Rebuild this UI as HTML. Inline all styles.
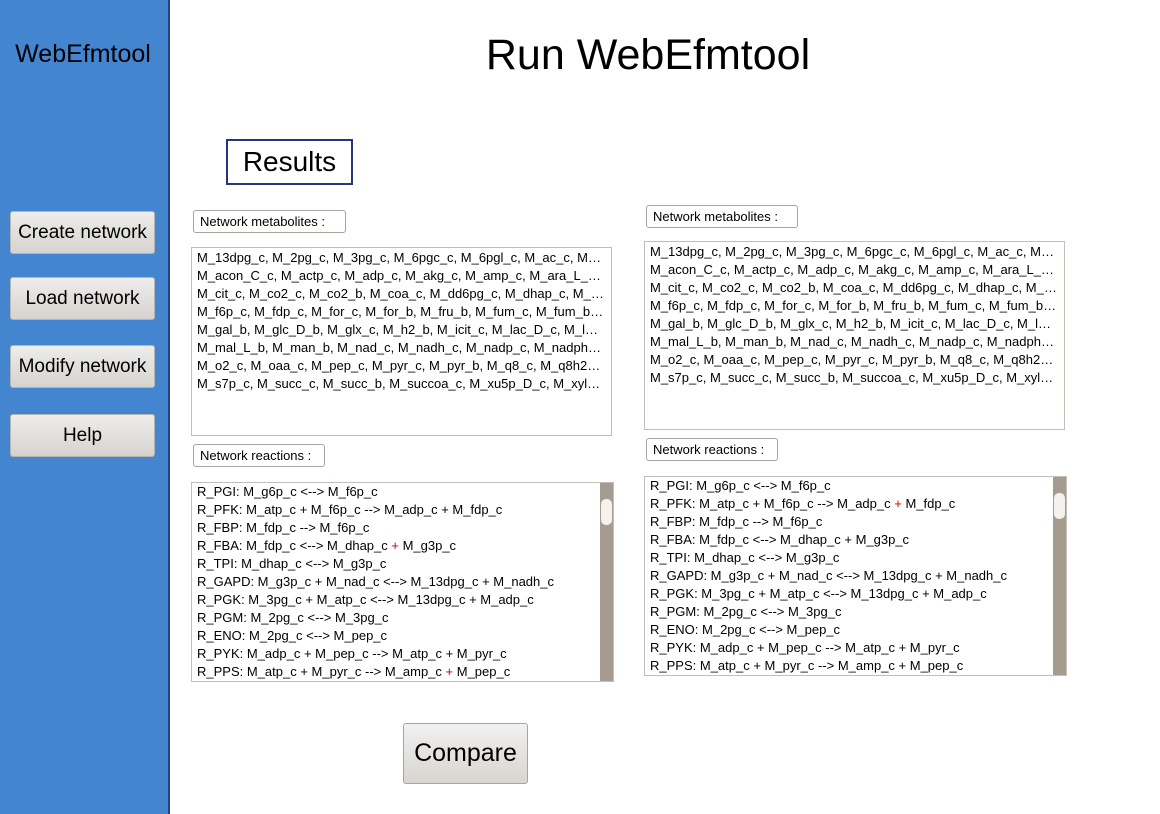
<!DOCTYPE html>
<html><head><meta charset="utf-8"><style>
*{box-sizing:border-box;margin:0;padding:0}
body{width:1160px;height:814px;position:relative;background:#fff;font-family:"Liberation Sans",sans-serif;overflow:hidden;color:#000}
.side{position:absolute;left:0;top:0;width:170px;height:814px;background:#4385cf;border-right:2px solid #253f8c}
.logo{position:absolute;left:0;width:166px;top:40px;text-align:center;font-size:25px}
.btn{position:absolute;left:10px;width:145px;height:43px;background:linear-gradient(#eeedec,#d6d3cf);border:1px solid #b8b4ae;border-radius:3px;font-size:19px;text-align:center;line-height:41px}
h1{position:absolute;left:170px;width:956px;top:31px;text-align:center;font-weight:normal;font-size:43px}
.res{position:absolute;left:226px;top:139px;width:127px;height:46px;border:2px solid #26357e;font-size:28px;text-align:center;line-height:42px}
.lbl{position:absolute;height:23px;border:1px solid #a9a49c;border-radius:3px;font-size:13px;padding-left:6px;line-height:21px;background:#fff}
.ta{position:absolute;border:1px solid #c4beb6;font-size:13px;padding:0 0 0 5px;line-height:18px;overflow:hidden;white-space:nowrap;background:#fff}
.ta div{overflow:hidden;text-overflow:ellipsis}
.sb{position:absolute;right:0;top:0;bottom:0;width:13px;background:#a59b8e}
.thumb{position:absolute;right:1px;top:16px;width:11px;height:26px;background:#f4f2ee;border-radius:5px}
.r{color:#c00}
.cmp{position:absolute;left:403px;top:723px;width:125px;height:61px;background:linear-gradient(#f2f1f0,#d8d5d1);border:1px solid #a9a49c;border-radius:3px;font-size:25px;text-align:center;line-height:59px}
</style></head><body>
<div class="side"><div class="logo">WebEfmtool</div>
<div class="btn" style="top:211px">Create network</div>
<div class="btn" style="top:277px">Load network</div>
<div class="btn" style="top:345px">Modify network</div>
<div class="btn" style="top:414px">Help</div></div>
<h1>Run WebEfmtool</h1>
<div class="res">Results</div>

<div class="lbl" style="left:193px;top:210px;width:153px">Network metabolites :</div>
<div class="ta" style="left:191px;top:247px;width:421px;height:189px;padding-top:1px;padding-right:6px">
<div>M_13dpg_c, M_2pg_c, M_3pg_c, M_6pgc_c, M_6pgl_c, M_ac_c, M_acald_c</div>
<div>M_acon_C_c, M_actp_c, M_adp_c, M_akg_c, M_amp_c, M_ara_L_b, M_atp_c</div>
<div>M_cit_c, M_co2_c, M_co2_b, M_coa_c, M_dd6pg_c, M_dhap_c, M_e4p_c</div>
<div>M_f6p_c, M_fdp_c, M_for_c, M_for_b, M_fru_b, M_fum_c, M_fum_b, M_g3p</div>
<div>M_gal_b, M_glc_D_b, M_glx_c, M_h2_b, M_icit_c, M_lac_D_c, M_lac_D_b</div>
<div>M_mal_L_b, M_man_b, M_nad_c, M_nadh_c, M_nadp_c, M_nadph_c, M_nh4</div>
<div>M_o2_c, M_oaa_c, M_pep_c, M_pyr_c, M_pyr_b, M_q8_c, M_q8h2_c, M_r5p</div>
<div>M_s7p_c, M_succ_c, M_succ_b, M_succoa_c, M_xu5p_D_c, M_xyl_D_b</div>
</div>
<div class="lbl" style="left:193px;top:444px;width:132px">Network reactions :</div>
<div class="ta" style="left:191px;top:482px;width:423px;height:200px;padding-top:0">
<div>R_PGI: M_g6p_c &lt;--&gt; M_f6p_c</div>
<div>R_PFK: M_atp_c + M_f6p_c --&gt; M_adp_c + M_fdp_c</div>
<div>R_FBP: M_fdp_c --&gt; M_f6p_c</div>
<div>R_FBA: M_fdp_c &lt;--&gt; M_dhap_c <span class="r">+</span> M_g3p_c</div>
<div>R_TPI: M_dhap_c &lt;--&gt; M_g3p_c</div>
<div>R_GAPD: M_g3p_c + M_nad_c &lt;--&gt; M_13dpg_c + M_nadh_c</div>
<div>R_PGK: M_3pg_c + M_atp_c &lt;--&gt; M_13dpg_c + M_adp_c</div>
<div>R_PGM: M_2pg_c &lt;--&gt; M_3pg_c</div>
<div>R_ENO: M_2pg_c &lt;--&gt; M_pep_c</div>
<div>R_PYK: M_adp_c + M_pep_c --&gt; M_atp_c + M_pyr_c</div>
<div>R_PPS: M_atp_c + M_pyr_c --&gt; M_amp_c <span class="r">+</span> M_pep_c</div>
<div class="sb"><div class="thumb"></div></div>
</div>

<div class="lbl" style="left:646px;top:205px;width:152px">Network metabolites :</div>
<div class="ta" style="left:644px;top:241px;width:421px;height:189px;padding-top:1px;padding-right:6px">
<div>M_13dpg_c, M_2pg_c, M_3pg_c, M_6pgc_c, M_6pgl_c, M_ac_c, M_acald_c</div>
<div>M_acon_C_c, M_actp_c, M_adp_c, M_akg_c, M_amp_c, M_ara_L_b, M_atp_c</div>
<div>M_cit_c, M_co2_c, M_co2_b, M_coa_c, M_dd6pg_c, M_dhap_c, M_e4p_c</div>
<div>M_f6p_c, M_fdp_c, M_for_c, M_for_b, M_fru_b, M_fum_c, M_fum_b, M_g3p</div>
<div>M_gal_b, M_glc_D_b, M_glx_c, M_h2_b, M_icit_c, M_lac_D_c, M_lac_D_b</div>
<div>M_mal_L_b, M_man_b, M_nad_c, M_nadh_c, M_nadp_c, M_nadph_c, M_nh4</div>
<div>M_o2_c, M_oaa_c, M_pep_c, M_pyr_c, M_pyr_b, M_q8_c, M_q8h2_c, M_r5p</div>
<div>M_s7p_c, M_succ_c, M_succ_b, M_succoa_c, M_xu5p_D_c, M_xyl_D_b</div>
</div>
<div class="lbl" style="left:646px;top:438px;width:132px">Network reactions :</div>
<div class="ta" style="left:644px;top:476px;width:423px;height:200px;padding-top:0">
<div>R_PGI: M_g6p_c &lt;--&gt; M_f6p_c</div>
<div>R_PFK: M_atp_c + M_f6p_c --&gt; M_adp_c <span class="r">+</span> M_fdp_c</div>
<div>R_FBP: M_fdp_c --&gt; M_f6p_c</div>
<div>R_FBA: M_fdp_c &lt;--&gt; M_dhap_c + M_g3p_c</div>
<div>R_TPI: M_dhap_c &lt;--&gt; M_g3p_c</div>
<div>R_GAPD: M_g3p_c + M_nad_c &lt;--&gt; M_13dpg_c + M_nadh_c</div>
<div>R_PGK: M_3pg_c + M_atp_c &lt;--&gt; M_13dpg_c + M_adp_c</div>
<div>R_PGM: M_2pg_c &lt;--&gt; M_3pg_c</div>
<div>R_ENO: M_2pg_c &lt;--&gt; M_pep_c</div>
<div>R_PYK: M_adp_c + M_pep_c --&gt; M_atp_c + M_pyr_c</div>
<div>R_PPS: M_atp_c + M_pyr_c --&gt; M_amp_c + M_pep_c</div>
<div class="sb"><div class="thumb"></div></div>
</div>

<div class="cmp">Compare</div>
</body></html>
